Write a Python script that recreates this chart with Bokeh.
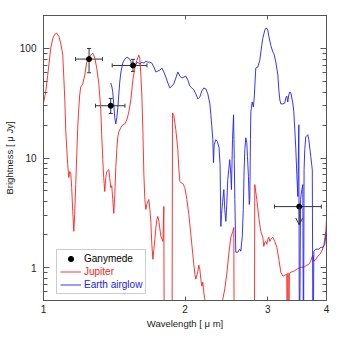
from bokeh.plotting import figure
from bokeh.models import (Range1d, FixedTicker, LogAxis, Legend, LegendItem, Whisker,
                          ColumnDataSource, Arrow, OpenHead, TeeHead, BoxAnnotation,
                          PrintfTickFormatter, CustomJSTickFormatter)
from bokeh.embed import file_html
from bokeh.resources import INLINE

# ---------------- data ----------------
BELOW = 0.1  # values dropping off the bottom of the plot

jupiter_wl = [1.00, 1.011, 1.021, 1.036, 1.047, 1.057, 1.067, 1.078, 1.088, 1.099, 1.104, 1.110,
              1.115, 1.121, 1.126, 1.132, 1.137, 1.143, 1.148, 1.154, 1.160, 1.165, 1.171, 1.177,
              1.182, 1.188, 1.194, 1.200, 1.212, 1.224, 1.236, 1.248, 1.261, 1.273, 1.286, 1.298,
              1.311, 1.324, 1.330, 1.337, 1.343, 1.350, 1.357, 1.363, 1.377, 1.383, 1.390, 1.397,
              1.404, 1.411, 1.418, 1.425, 1.432, 1.439, 1.446, 1.460, 1.474, 1.489, 1.504, 1.519,
              1.534, 1.549, 1.564, 1.580, 1.595, 1.603, 1.611, 1.619, 1.627, 1.635, 1.643, 1.651,
              1.659, 1.675, 1.684, 1.692, 1.700, 1.709, 1.717, 1.726, 1.734, 1.743, 1.751, 1.760,
              1.777, 1.795, 1.803, 1.807, 1.877, 1.881, 1.893, 1.912, 1.931, 1.941, 1.950, 1.960,
              1.979, 1.998, 2.018, 2.038, 2.058, 2.078, 2.099, 2.109, 2.130, 2.140, 2.151, 2.161,
              2.172, 2.182, 2.193, 2.204, 2.215, 2.395, 2.407, 2.430, 2.454, 2.478, 2.503, 2.528,
              2.540, 2.546, 2.809, 2.815, 2.843, 2.871, 2.899, 2.928, 2.942, 2.956, 2.972, 2.986,
              3.001, 3.016, 3.030, 3.045, 3.075, 3.105, 3.136, 3.167, 3.198, 3.230, 3.261, 3.293,
              3.301, 3.312, 3.325, 3.335, 3.359, 3.408, 3.459, 3.527, 3.579, 3.632, 3.668, 3.704,
              3.722, 3.741, 3.759, 3.796, 3.834, 3.871, 3.909, 3.948, 3.986, 4.00]
jupiter_br = [31.8, 40.1, 57.2, 100.6, 124, 135, 138, 129, 112, 87, 57.2, 33.9,
              18.1, 11.9, 8.69, 6.62, 7.51, 7.20, 5.37, 3.25, 2.14, 3.05, 5.72, 10.7,
              18.1, 27.5, 37.6, 44.5, 47.4, 57.2, 75, 81.6, 87, 90.6, 81.6, 66.2,
              48.4, 27.5, 16.3, 9.66, 6.62, 4.94, 6.62, 7.51, 7.83, 6.62, 5.37, 5.60,
              4.18, 3.12, 4.64, 8.16, 11.9, 15.6, 17.3, 18.9, 20.1, 20.5, 22.3, 26.4,
              33.9, 51.5, 66.2, 78, 87, 81.6, 57.2, 37.6, 18.1, 7.05, 4.18, 3.39,
              3.76, 4.18, 3.39, 2.58, 1.63, 1.19, 1.47, 1.81, 2.32, 2.75, 2.93, 2.64,
              1.93, 1.73, 3.61, BELOW, BELOW, 25.8, 24.8, 18.1, 11.9, 7.83, 6.09, 5.96,
              5.84, 5.37, 4.18, 3.05, 2.01, 1.32, 0.869, 0.783, 0.925, 1.05, 0.965, 0.783,
              0.676, 0.735, 0.596, 0.515, BELOW, BELOW, 0.515, 0.635, 0.869, 1.32, 1.89, 2.14,
              2.32, BELOW, BELOW, 5.72, 4.18, 2.86, 2.14, 1.89, 1.56, 1.70, 1.73, 1.63,
              1.81, 1.89, 1.73, 1.81, 1.89, 1.73, 1.53, 1.19, 0.906, 0.834, 0.851, 0.869,
              BELOW, 0.886, BELOW, 0.886, 0.906, 0.925, 0.965, 1.006, 1.006, 1.05, 1.07, 1.14,
              1.24, 1.29, 1.14, 1.19, 1.27, 1.32, 1.41, 1.59, 2.14, 2.75]

airglow_wl = [1.390, 1.397, 1.404, 1.411, 1.418, 1.425, 1.432, 1.439, 1.446, 1.453, 1.460, 1.474,
              1.489, 1.504, 1.519, 1.534, 1.542, 1.549, 1.557, 1.572, 1.588, 1.603, 1.619, 1.635,
              1.651, 1.667, 1.684, 1.700, 1.717, 1.734, 1.751, 1.769, 1.786, 1.803, 1.821, 1.839,
              1.857, 1.875, 1.893, 1.912, 1.931, 1.950, 1.969, 1.989, 2.008, 2.028, 2.048, 2.068,
              2.089, 2.109, 2.130, 2.151, 2.172, 2.193, 2.215, 2.237, 2.259, 2.270, 2.281, 2.292,
              2.300, 2.307, 2.326, 2.345, 2.363, 2.375, 2.384, 2.392, 2.404, 2.419, 2.430, 2.443,
              2.454, 2.466, 2.478, 2.490, 2.503, 2.511, 2.524, 2.537, 2.546, 2.553, 2.565, 2.590,
              2.616, 2.629, 2.648, 2.661, 2.672, 2.681, 2.694, 2.707, 2.716, 2.729, 2.740, 2.747,
              2.756, 2.761, 2.780, 2.796, 2.808, 2.829, 2.857, 2.885, 2.913, 2.928, 2.957, 2.972,
              2.986, 3.001, 3.016, 3.045, 3.075, 3.090, 3.121, 3.152, 3.167, 3.183, 3.198, 3.230,
              3.261, 3.277, 3.293, 3.309, 3.325, 3.342, 3.359, 3.375, 3.392, 3.408, 3.425, 3.442,
              3.459, 3.476, 3.493, 3.503, 3.523, 3.544, 3.562, 3.573, 3.584, 3.596, 3.614, 3.650,
              3.668, 3.704, 3.731, 3.745, 3.759, 3.796, 3.853, 3.890, 3.928, 3.967, 4.00]
airglow_br = [48.4, 45.4, 40.1, 30.5, 23.3, 20.5, 23.3, 28.7, 37.6, 49.4, 59.6, 73.5,
              79.9, 83, 81.6, 76.6, 69.0, 72.0, 67.6, 72, 75, 72, 75, 73.5,
              76.6, 75, 75, 73.5, 67.6, 61, 62.3, 63.5, 66.2, 61, 54.8, 48.4,
              43.6, 45.4, 47.4, 53.7, 61, 56.0, 53.7, 54.8, 56, 51.5, 45.4, 43.6,
              41.8, 38.4, 34.6, 36.1, 40.9, 43.6, 42.7, 38.4, 31.2, 24.8, 19.3, 14.7,
              9.06, 13.2, 14.7, 14.1, 12.4, 8.69, 2.37, 3.05, 3.93, 5.15, 3.39, 2.64,
              3.76, 6.35, 7.83, 9.66, 7.05, 5.15, 14.7, 24.8, 9.66, 4.18, 1.38, 1.38,
              1.47, 1.41, 1.93, 3.39, 7.83, 11.9, 15.3, 13.8, 10.3, 6.76, 3.76, 4.18,
              14.7, 26.4, 32.5, 29.3, 36.1, 66.2, 67.6, 78, 107, 124, 147, 153,
              153, 147, 129, 107, 92.6, 90.6, 75, 57.2, 41.8, 33.9, 31.2, 31.2,
              31.8, 35.3, 36.8, 32.5, 37.6, 40.1, 39.3, 35.3, 31.8, 26.4, 18.1, 11.9,
              7.05, 4.45, 20.1, BELOW, 4.18, 5.15, 5.72, BELOW, 7.83, 11.9, 15.6, 16.3,
              14.7, 10.3, 7.83, BELOW, 1.41, 1.47, 1.47, 1.53, 1.53, 1.63, 2.23]

# Ganymede photometry (detections)
gany_wl = [1.25, 1.39, 1.55]
gany_br = [80, 30, 70]
gany_wl_lo = [1.17, 1.29, 1.40]
gany_wl_hi = [1.335, 1.49, 1.66]
gany_br_lo = [60, 25.5, 61.7]
gany_br_hi = [100, 35, 79.5]
# Ganymede upper limit
lim_wl = [3.5]
lim_br = [3.6]
lim_wl_lo = [3.1]
lim_wl_hi = [3.9]
lim_arrow_to = 2.45

x_ticks = [1, 2, 3, 4]
y_ticks = [1, 10, 100]
y_minor = [0.5, 0.6, 0.7, 0.8, 0.9, 2, 3, 4, 5, 6, 7, 8, 9,
           20, 30, 40, 50, 60, 70, 80, 90, 200]

# ---------------- figure ----------------
FONT = "Liberation Sans"
AX = "#555555"
EB = "#333333"
TXT = "#222222"

p = figure(width=331, height=331, x_axis_type="log", y_axis_type="log",
           x_range=Range1d(1, 4), y_range=Range1d(0.5, 200),
           output_backend="svg", toolbar_location=None,
           min_border_left=35, min_border_right=5, min_border_top=15, min_border_bottom=31)
p.xgrid.visible = False
p.ygrid.visible = False
p.outline_line_color = AX
p.background_fill_color = "white"
p.border_fill_color = "white"

xa = p.xaxis[0]
xa.ticker = FixedTicker(ticks=x_ticks, minor_ticks=[])
xa.formatter = PrintfTickFormatter(format="%d")
xa.axis_label = "Wavelength [ μ m]"
ya = p.yaxis[0]
ya.ticker = FixedTicker(ticks=y_ticks, minor_ticks=y_minor)
ya.formatter = PrintfTickFormatter(format="%d")
ya.axis_label = "Brightness [ μ Jy]"

for a in (xa, ya):
    a.major_tick_in = 6
    a.major_tick_out = 0
    a.minor_tick_in = 4
    a.minor_tick_out = 0
    a.axis_line_color = AX
    a.major_tick_line_color = AX
    a.minor_tick_line_color = AX
    a.major_label_text_font = FONT
    a.major_label_text_font_size = "10px"
    a.major_label_text_color = TXT
    a.axis_label_text_font = FONT
    a.axis_label_text_font_size = "9.5px"
    a.axis_label_text_font_style = "normal"
    a.axis_label_text_color = TXT
xa.major_tick_in = 4
xa.major_label_standoff = 4
xa.axis_label_standoff = 2
ya.major_label_standoff = 7
ya.axis_label_standoff = 2

blank = CustomJSTickFormatter(code="return ''")
ra = LogAxis(ticker=FixedTicker(ticks=y_ticks, minor_ticks=y_minor), formatter=blank)
ta = LogAxis(ticker=FixedTicker(ticks=x_ticks, minor_ticks=[]), formatter=blank)
for a, tin in ((ra, 6), (ta, 4)):
    a.major_tick_in = tin
    a.major_tick_out = 0
    a.minor_tick_in = 4
    a.minor_tick_out = 0
    a.axis_line_color = AX
    a.major_tick_line_color = AX
    a.minor_tick_line_color = AX
    a.major_label_standoff = 0
p.add_layout(ra, "right")
p.add_layout(ta, "above")

r_jup = p.line(jupiter_wl, jupiter_br, line_color="#ff2020", line_width=1, line_alpha=0.9)
r_air = p.line(airglow_wl, airglow_br, line_color="#2020ff", line_width=1, line_alpha=0.9)

det = ColumnDataSource(dict(wl=gany_wl, br=gany_br, wl_lo=gany_wl_lo, wl_hi=gany_wl_hi,
                            br_lo=gany_br_lo, br_hi=gany_br_hi))
lim = ColumnDataSource(dict(wl=lim_wl, br=lim_br, wl_lo=lim_wl_lo, wl_hi=lim_wl_hi))

for s in (det, lim):
    p.add_layout(Whisker(base="br", lower="wl_lo", upper="wl_hi", dimension="width", source=s,
                         line_color=EB, line_width=1,
                         lower_head=TeeHead(size=4, line_color=EB),
                         upper_head=TeeHead(size=4, line_color=EB)))
p.add_layout(Whisker(base="wl", lower="br_lo", upper="br_hi", dimension="height", source=det,
                     line_color=EB, line_width=1,
                     lower_head=TeeHead(size=4, line_color=EB),
                     upper_head=TeeHead(size=4, line_color=EB)))
p.add_layout(Arrow(x_start=lim_wl[0], y_start=lim_br[0], x_end=lim_wl[0], y_end=lim_arrow_to,
                   line_color=EB, line_width=1,
                   end=OpenHead(size=7, line_color=EB, line_width=1)))
r_pts = p.scatter("wl", "br", source=det, size=5, color="black")
p.scatter("wl", "br", source=lim, size=5, color="black")

# legend: one legend per entry so each label can carry its own colour
entries = [("Ganymede", r_pts, "black", 35.5),
           ("Jupiter", r_jup, "#ff2020", 22.5),
           ("Earth airglow", r_air, "#2020ff", 9.5)]
for label, rend, col, yb in entries:
    lg = Legend(items=[LegendItem(label=label, renderers=[rend])], location=(17, yb),
                padding=0, margin=0, spacing=0, glyph_width=21, glyph_height=13,
                label_height=13, label_standoff=3, label_text_font=FONT,
                label_text_font_size="10px", label_text_color=col,
                border_line_alpha=0, background_fill_alpha=0)
    p.add_layout(lg, "center")

p.add_layout(BoxAnnotation(left=13, right=102, bottom=7, top=51,
                           left_units="screen", right_units="screen",
                           bottom_units="screen", top_units="screen",
                           fill_alpha=0, line_color=AX, line_width=1))

open("out.html", "w").write(file_html(p, INLINE))
